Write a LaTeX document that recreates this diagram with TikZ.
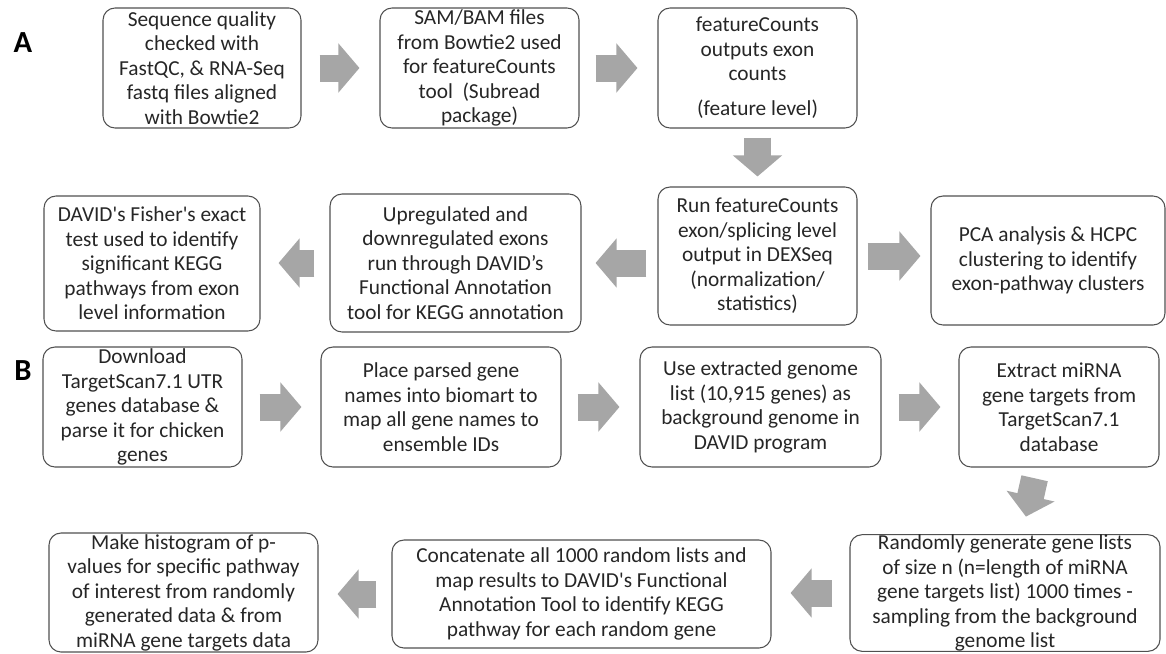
\documentclass[tikz,border=0pt]{standalone}
\usepackage{fontspec}
\setmainfont{Carlito}
\usetikzlibrary{arrows.meta}
\definecolor{arrowgray}{HTML}{A6A6A6}
\definecolor{boxline}{HTML}{505050}

\begin{document}
\begin{tikzpicture}[x=0.75pt,y=-0.75pt]
        \tikzstyle{stepbox}=[draw=boxline,line width=0.8pt,rounded corners=9pt,align=center,inner sep=0pt,text=black!85,font=\fontsize{16}{18.4}\selectfont]
        \tikzstyle{blockarrow}=[draw=arrowgray,line width=20.25pt,-{Triangle[length=15.75pt,width=36pt]}]
        \tikzstyle{panel}=[text=black,font=\fontsize{23}{28}\selectfont\bfseries]
  \useasboundingbox (0,0) rectangle (1166,653);
  \node[panel] (L_A) at (23,43) {A};
  \node[panel] (L_B) at (23,371) {B};
  \node[stepbox,minimum width=148.5pt,minimum height=90pt] (A_1) at (202,68)
    {Sequence quality\\checked with\\FastQC, \& RNA-Seq\\fastq files aligned\\with Bowtie2};
  \node[stepbox,minimum width=149.25pt,minimum height=90pt] (A_2) at (479.5,68)
    {SAM/BAM files\\from Bowtie2 used\\for featureCounts\\tool\ \ (Subread\\package)};
  \node[stepbox,minimum width=149.25pt,minimum height=90pt] (A_3) at (757.5,68)
    {featureCounts\\outputs exon\\counts\\[8pt](feature level)};
  \node[stepbox,minimum width=149.25pt,minimum height=103.5pt] (A_4) at (757.5,256)
    {Run featureCounts\\exon/splicing level\\output in DEXSeq\\(normalization/\\statistics)};
  \node[stepbox,minimum width=175.5pt,minimum height=96.75pt] (A_5) at (1048,260.5)
    {PCA analysis \& HCPC\\clustering to identify\\exon-pathway clusters};
  \node[stepbox,minimum width=188.25pt,minimum height=103.5pt] (A_6) at (455.5,263)
    {Upregulated and\\downregulated exons\\run through DAVID’s\\Functional Annotation\\tool for KEGG annotation};
  \node[stepbox,minimum width=162pt,minimum height=101.25pt] (A_7) at (152,263.5)
    {DAVID\textquotesingle s Fisher\textquotesingle s exact\\test used to identify\\significant KEGG\\pathways from exon\\level information};
  \node[stepbox,minimum width=149.25pt,minimum height=90pt] (B_1) at (142.5,407)
    {Download\\TargetScan7.1 UTR\\genes database \&\\parse it for chicken\\genes};
  \node[stepbox,minimum width=180pt,minimum height=90pt] (B_2) at (441,407)
    {Place parsed gene\\names into biomart to\\map all gene names to\\ensemble IDs};
  \node[stepbox,minimum width=180.75pt,minimum height=90pt] (B_3) at (760.5,407)
    {Use extracted genome\\list (10,915 genes) as\\background genome in\\DAVID program};
  \node[stepbox,minimum width=150pt,minimum height=90pt] (B_4) at (1059,407)
    {Extract miRNA\\gene targets from\\TargetScan7.1\\database};
  \node[stepbox,minimum width=232.5pt,minimum height=87pt] (B_5) at (1005,593)
    {Randomly generate gene lists\\of size n (n=length of miRNA\\gene targets list) 1000 times -\\sampling from the background\\genome list};
  \node[stepbox,minimum width=284.25pt,minimum height=81pt] (B_6) at (581.5,594)
    {Concatenate all 1000 random lists and\\map results to DAVID\textquotesingle s Functional\\Annotation Tool to identify KEGG\\pathway for each random gene};
  \node[stepbox,minimum width=201.75pt,minimum height=89.25pt] (B_7) at (183.5,592.5)
    {Make histogram of p-\\values for specific pathway\\of interest from randomly\\generated data \& from\\miRNA gene targets data};
  \draw[blockarrow,shorten <=13.5pt,shorten >=15pt] (A_1) -- (A_2);
  \draw[blockarrow,shorten <=12pt,shorten >=15pt] (A_2) -- (A_3);
  \draw[blockarrow,shorten <=6.75pt,shorten >=7.5pt] (A_3) -- (A_4);
  \draw[blockarrow,shorten <=7.5pt,shorten >=7.5pt] (A_4.east) -- (A_4.east -| A_5.west);
  \draw[blockarrow,shorten <=8.25pt,shorten >=10.5pt] (A_4.west |- A_6.east) -- (A_6.east);
  \draw[blockarrow,shorten <=11.25pt,shorten >=13.5pt] (A_6.west) -- (A_6.west -| A_7.east);
  \draw[blockarrow,shorten <=12.75pt,shorten >=14.25pt] (B_1) -- (B_2);
  \draw[blockarrow,shorten <=12pt,shorten >=15pt] (B_2) -- (B_3);
  \draw[blockarrow,shorten <=12.75pt,shorten >=13.5pt] (B_3) -- (B_4);
  \draw[blockarrow,shorten <=8.25pt,shorten >=13.5pt] ([xshift=-16.5pt]B_4.south) -- ([xshift=12.75pt]B_5.north);
  \draw[blockarrow,shorten <=12.75pt,shorten >=14.25pt] (B_5.west) -- (B_5.west -| B_6.east);
  \draw[blockarrow,shorten <=11.25pt,shorten >=14.25pt] (B_6.west) -- (B_6.west -| B_7.east);
    \end{tikzpicture}
\end{document}
